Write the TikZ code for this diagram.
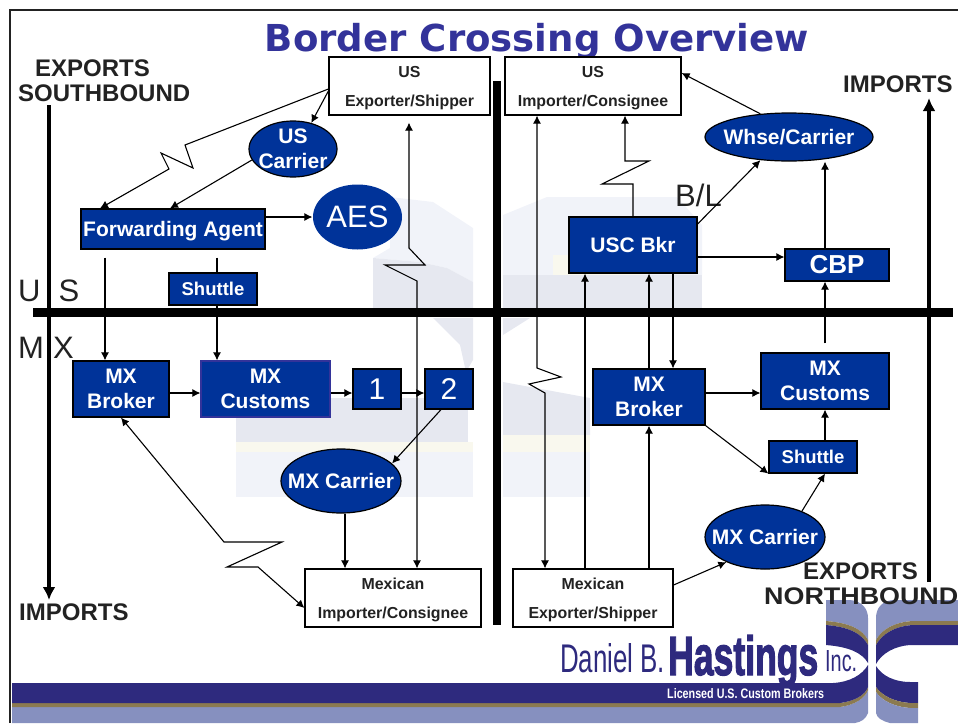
\documentclass[tikz,border=0pt]{standalone}
\usepackage{graphicx}
\usepackage{fontspec}
\setmainfont{Liberation Sans}
\newfontfamily\titlefont{DejaVu Sans}
\newfontfamily\heavyfont[FakeBold=2.5]{Liberation Sans Bold}
\usetikzlibrary{arrows.meta,shapes.geometric}
\definecolor{dbblue}{HTML}{003399}
\definecolor{navyband}{HTML}{2E2A7E}
\definecolor{tanband}{HTML}{8B7A50}
\definecolor{periband}{HTML}{8690BF}
\definecolor{titleblue}{HTML}{33339A}
\definecolor{labdark}{HTML}{222222}
\definecolor{wmgray}{HTML}{E6E8F0}
\definecolor{wmpale}{HTML}{F1F3F9}
\definecolor{wmyel}{HTML}{F9F8EE}
\tikzset{
  bluebox/.style={rectangle,draw=black,line width=1.2pt,fill=dbblue,text=white,inner sep=0pt,align=center,
    font=\fontsize{21}{25}\selectfont\bfseries},
  oval/.style={ellipse,draw=black,line width=1.2pt,fill=dbblue,text=white,inner sep=-40pt,align=center,
    font=\fontsize{21}{25}\selectfont\bfseries},
  paper/.style={rectangle,draw=black,line width=1.2pt,fill=white,text=labdark,inner sep=0pt,align=center,
    text depth=-1pt,font=\fontsize{15.9}{29}\selectfont\bfseries},
  lab/.style={text=labdark,inner sep=0pt,align=left,font=\fontsize{24}{25}\selectfont\bfseries},
  plain/.style={text=labdark,inner sep=0pt,anchor=base west,font=\fontsize{31}{31}\selectfont},
  link/.style={draw=black,line width=1.1pt,->},
  heavy/.style={draw=black,line width=4pt,-{Latex[length=13pt,width=13pt]}},
  bar/.style={draw=black,line width=8.5pt},
  logotext/.style={text=navyband,inner sep=0pt,anchor=base west}
}
\begin{document}
\begin{tikzpicture}
  [x=1pt,y=-1pt,>={Latex[length=8pt,width=8pt]}]
  \useasboundingbox (0,0) rectangle (958,723);

  \fill[wmpale] (390,197) -- (433,202) -- (473,228) -- (473,282) -- (447,268) -- (420,262) -- (373,258) -- (390,248) -- cycle;
  \fill[wmgray] (373,258) -- (420,262) -- (447,268) -- (473,282) -- (473,308) -- (373,308) -- cycle;
  \fill[wmgray] (433,318) -- (473,318) -- (473,360) -- (466,372) -- (460,345) -- cycle;
  \fill[wmgray] (236,398) rectangle (468,442);
  \fill[wmyel] (236,442) rectangle (473,452);
  \fill[wmpale] (236,452) rectangle (473,497);
  \fill[wmpale] (503,215) -- (547,197) -- (677,197) -- (702,225) -- (702,275) -- (503,275) -- cycle;
  \fill[wmyel] (553,255) rectangle (640,275);
  \fill[wmgray] (503,275) rectangle (702,308);
  \fill[wmgray] (503,318) -- (530,318) -- (503,335) -- cycle;
  \fill[wmgray] (503,382) -- (590,398) -- (590,435) -- (503,435) -- cycle;
  \fill[wmyel] (503,435) rectangle (590,452);
  \fill[wmpale] (503,452) rectangle (590,497);

  \fill[periband] (12,707) -- (840,707) .. controls (855,705) and (865,698) .. (868,690) -- (868,713) .. controls (866,719) and (861,722) .. (855,723) -- (12,723) -- cycle;
  \fill[tanband] (12,703) -- (840,703) .. controls (855,701) and (865,695) .. (868,687) -- (868,690) .. controls (865,698) and (855,705) .. (840,707) -- (12,707) -- cycle;
  \fill[navyband] (12,683) -- (833,683) .. controls (850,682) and (862,675) .. (868,665) -- (868,687) .. controls (865,695) and (855,701) .. (840,703) -- (12,703) -- cycle;
  \fill[periband] (826,600) -- (850,600) .. controls (862,601) and (868,609) .. (868,618) -- (868,640) .. controls (862,629) and (850,623) .. (826,621) -- cycle;
  \fill[tanband] (826,621) .. controls (850,623) and (862,629) .. (868,640) -- (868,645) .. controls (862,634) and (850,627) .. (826,625) -- cycle;
  \fill[navyband] (826,625) .. controls (850,627) and (862,634) .. (868,645) -- (868,663) .. controls (862,653) and (850,647) .. (826,645) -- cycle;
  \fill[periband] (876,618) .. controls (876,608) and (882,601) .. (893,600) -- (958,600) -- (958,621) -- (913,621) .. controls (895,622) and (882,629) .. (876,640) -- cycle;
  \fill[tanband] (876,640) .. controls (882,629) and (895,622) .. (913,621) -- (958,621) -- (958,625) -- (913,625) .. controls (895,626) and (882,634) .. (876,645) -- cycle;
  \fill[navyband] (876,645) .. controls (882,634) and (895,626) .. (913,625) -- (958,625) -- (958,645) -- (910,645) .. controls (895,646) and (882,653) .. (876,664) -- cycle;
  \fill[navyband] (876,666) .. controls (882,676) and (895,682) .. (910,682) -- (918,682) -- (918,703) -- (910,703) .. controls (895,702) and (882,696) .. (876,687) -- cycle;
  \fill[tanband] (876,687) .. controls (882,696) and (895,702) .. (910,703) -- (918,703) -- (918,708) -- (910,708) .. controls (895,707) and (882,701) .. (876,692) -- cycle;
  \fill[periband] (876,692) .. controls (882,701) and (895,707) .. (910,708) -- (918,708) -- (918,723) -- (890,723) .. controls (882,721) and (877,718) .. (876,713) -- cycle;

  \draw[labdark,line width=2pt] (10,723) -- (10,10) -- (958,10);

  \node[text=titleblue,inner sep=0pt,anchor=base,font=\fontsize{37.1}{37}\selectfont\titlefont\bfseries] (title) at (537,51) {Border Crossing Overview};

  \draw[bar] (33,312.5) -- (953,312.5);
  \draw[bar] (497,81) -- (497,625);
  \coordinate (southtop) at (49,105);
  \coordinate (southend) at (49,600);
  \coordinate (northtop) at (929,98);
  \coordinate (northend) at (929,582);
  \draw[heavy] (southtop) -- (southend);
  \draw[heavy] (northend) -- (northtop);

  \node[paper,minimum width=161,minimum height=58] (usexp) at (409.5,86) {US\\Exporter/Shipper};
  \node[paper,minimum width=176,minimum height=58] (usimp) at (593,86) {US\\Importer/Consignee};
  \node[paper,minimum width=176,minimum height=58] (mximp) at (393,598) {Mexican\\Importer/Consignee};
  \node[paper,minimum width=160,minimum height=58] (mxexp) at (593,598) {Mexican\\Exporter/Shipper};

  \node[oval,minimum width=88,minimum height=56] (uscar) at (293,149) {US\\Carrier};
  \node[oval,draw=none,minimum width=89,minimum height=65,font=\fontsize{31}{31}\selectfont] (aes) at (357.5,217) {AES};
  \node[oval,minimum width=168,minimum height=48] (whse) at (789,137) {Whse/Carrier};
  \node[oval,minimum width=120,minimum height=64] (mxcarl) at (341,481) {MX Carrier};
  \node[oval,minimum width=120,minimum height=64] (mxcarr) at (765,537) {MX Carrier};

  \node[bluebox,text depth=0pt,minimum width=184,minimum height=40] (fwd) at (173,229) {Forwarding Agent};
  \node[bluebox,minimum width=88,minimum height=32,font=\fontsize{18.5}{20}\selectfont\bfseries] (shutl) at (213,289) {Shuttle};
  \node[bluebox,minimum width=96,minimum height=56] (mxbrkl) at (121,389) {MX\\Broker};
  \node[bluebox,draw=titleblue,minimum width=129,minimum height=56] (mxcusl) at (265.5,389) {MX\\Customs};
  \node[bluebox,minimum width=48,minimum height=40,font=\fontsize{30}{30}\selectfont] (one) at (377,389) {1};
  \node[bluebox,minimum width=48,minimum height=40,font=\fontsize{30}{30}\selectfont] (two) at (449,389) {2};
  \node[bluebox,minimum width=128,minimum height=56] (uscbkr) at (633,245) {USC Bkr};
  \node[bluebox,minimum width=104,minimum height=32,font=\fontsize{26}{26}\selectfont\bfseries] (cbp) at (837,265) {CBP};
  \node[bluebox,minimum width=112,minimum height=56] (mxbrkr) at (649,397) {MX\\Broker};
  \node[bluebox,minimum width=128,minimum height=56] (mxcusr) at (825,381) {MX\\Customs};
  \node[bluebox,minimum width=88,minimum height=32,font=\fontsize{18.5}{20}\selectfont\bfseries] (shutr) at (813,457) {Shuttle};

  \node[lab,anchor=base west] (expsouth) at (18,101) {\hspace*{17pt}EXPORTS\\SOUTHBOUND};
  \node[lab,anchor=base west] (impnorth) at (843,92) {IMPORTS};
  \node[lab,anchor=base west] (impsouth) at (19,620) {IMPORTS};
  \node[lab,anchor=base west] (expnorth) at (764,604) {\hspace*{39pt}EXPORTS\\\scalebox{1.12}[1]{NORTHBOUND}};
  \node[plain] (uslabel) at (18,301) {U\hspace{18pt}S};
  \node[plain] (mxlabel) at (18,358) {M\hspace{9pt}X};
  \node[plain] (bllabel) at (675,206) {B/L};

  \node[logotext] (daniel) at (560,672) {\resizebox{105pt}{29pt}{Daniel B.}};
  \node[logotext] (hastings) at (668,675) {\resizebox{150pt}{40pt}{\heavyfont Hastings}};
  \node[logotext] (inc) at (825,671) {\resizebox{32pt}{21pt}{Inc.}};
  \node[logotext,text=white] (licensed) at (667,698) {\resizebox{157pt}{10pt}{\bfseries Licensed U.S. Custom Brokers}};

  \foreach \from/\fx/\to/\tx in {mxcarl/4/mximp/-48,uscbkr/40/mxbrkr/24,shutl/4/mxcusl/-48.5}
    \draw[link] ([xshift=\fx]\from.south) -- ([xshift=\tx]\to.north);
  \foreach \from/\fx/\to/\tx in {mxexp/-8/uscbkr/-48,mxbrkr/0/uscbkr/16,mxexp/56/mxbrkr/0,shutr/12/mxcusr/0,cbp/-12/whse/36}
    \draw[link] ([xshift=\fx]\from.north) -- ([xshift=\tx]\to.south);
  \foreach \from/\fy/\to/\ty in {mxbrkl/-4/mxcusl/-4,mxcusl/-4/one/-4,one/-4/two/-4,fwd/12/aes/0,uscbkr/-12/cbp/8,mxbrkr/4/mxcusr/-12}
    \draw[link] ([yshift=\fy]\from.east) -- ([yshift=\ty]\to.west);

  \draw[link] ([yshift=-3]usexp.west) -- (185,145) -- (193,168) -- (161,153) -- (169,169) -- ([xshift=-73]fwd.north);
  \draw[link] ([yshift=-5]usexp.west) -- (uscar.55);
  \draw[link] (uscar.195) -- ([xshift=-3]fwd.north);
  \draw[link] ([xshift=-68,yshift=-8]fwd.south) -- ([xshift=-16]mxbrkl.north);
  \draw[link,-] ([xshift=44,yshift=-8]fwd.south) -- ([xshift=4]shutl.north);
  \draw[link] ([xshift=-8]two.south) -- (mxcarl.19);
  \draw[link,<->] (mxbrkl.south) -- (224,542) -- (282,542) -- (227,567) -- (258,567) -- ([yshift=-10]mximp.west);
  \draw[link,<->] ([xshift=-0.5,yshift=-7]usexp.south) -- (409,248) -- (425,265) -- (385,265) -- (417,281) -- ([xshift=24]mximp.north);
  \draw[link,<->] ([xshift=-56]usimp.south) -- (537,368) -- (561,377) -- (529,384) -- (545,393) -- ([xshift=-48]mxexp.north);
  \draw[link] (uscbkr.north) -- (633,184) -- (602,184) -- (649,161) -- (625,161) -- ([xshift=32]usimp.south);
  \draw[link] (whse.141) -- ([yshift=13]usimp.east);
  \draw[link] ([yshift=21]uscbkr.east) -- (whse.219);
  \draw[link] ([yshift=9]mxcusr.north) -- ([xshift=-12]cbp.south);
  \draw[link] (mxbrkr.south east) -- (shutr.south west);
  \draw[link] (mxcarr.35) -- ([xshift=12]shutr.south);
  \draw[link] ([yshift=13]mxexp.east) -- (mxcarr.213);

\end{tikzpicture}
\end{document}
